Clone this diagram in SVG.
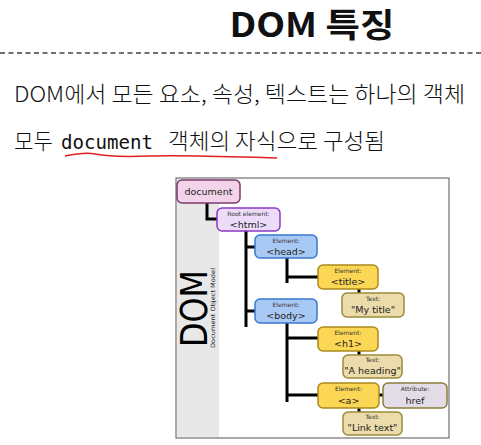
<svg xmlns="http://www.w3.org/2000/svg" width="481" height="445" viewBox="0 0 481 445">
<style>
.k{font-family:"Noto Sans CJK KR","Noto Sans",sans-serif;fill:#111}
.t{font-weight:300}
.mono{font-family:"DejaVu Sans Mono","Liberation Mono",monospace}
.n{stroke-width:1.5}
.sm{font-family:"DejaVu Sans",sans-serif;font-size:6px;fill:#333;text-anchor:middle}
.lb{font-family:"DejaVu Sans",sans-serif;font-size:9.5px;fill:#222;text-anchor:middle}
.doc{fill:#f3d3ea;stroke:#7a3a6a}
.root{fill:#ecdcfa;stroke:#8a3ac8}
.el{fill:#a9c9f5;stroke:#3a78d0}
.yel{fill:#fcd655;stroke:#a88a1c}
.txt{fill:#ecdcab;stroke:#9c8a3a}
.att{fill:#e2dce6;stroke:#8c7c3c}
.c{fill:none;stroke:#000;stroke-width:3}
</style>
<rect width="481" height="445" fill="#fff"/>
<text class="k" x="312" y="37" font-size="33" font-weight="700" text-anchor="middle" textLength="165" lengthAdjust="spacingAndGlyphs">DOM 특징</text>
<line x1="0" y1="53" x2="481" y2="53" stroke="#444" stroke-width="1.5" stroke-dasharray="5 3.5"/>
<text class="k t" x="14" y="102" font-size="22" textLength="451" lengthAdjust="spacingAndGlyphs">DOM에서 모든 요소, 속성, 텍스트는 하나의 객체</text>
<text class="k t" x="14" y="149" font-size="22" textLength="39" lengthAdjust="spacingAndGlyphs">모두</text>
<text class="mono" x="61" y="149" font-size="20" fill="#111" textLength="92" lengthAdjust="spacingAndGlyphs">document</text>
<text class="k t" x="168" y="149" font-size="22" textLength="217" lengthAdjust="spacingAndGlyphs">객체의 자식으로 구성됨</text>
<path d="M65,156 C75,154 85,152 95,154 C110,157 125,157 150,156 C190,155 240,157 277,158" fill="none" stroke="#e02020" stroke-width="1.5"/>

<g id="frame">
<rect x="176" y="178" width="273" height="260" fill="#fff" stroke="#555" stroke-width="1"/>
<rect x="177" y="179" width="42" height="258" fill="#e8e8e8"/>
<text transform="translate(207,347) rotate(-90)" font-family="DejaVu Sans,sans-serif" font-size="37" fill="#000" textLength="77" lengthAdjust="spacingAndGlyphs">DOM</text>
<text transform="translate(215,348) rotate(-90)" font-family="DejaVu Sans,sans-serif" font-size="6" fill="#222" textLength="80" lengthAdjust="spacingAndGlyphs">Document Object Model</text>
</g>

<g id="connectors">
<path class="c" d="M207,203 V219 H217"/>
<path class="c" d="M246,231 V327 M246,247 H255 M246,311 H255"/>
<path class="c" d="M287,258 V283 M287,277 H318"/>
<path class="c" d="M359,289 V293"/>
<path class="c" d="M287,323 V402 M287,338 H318 M287,395 H318"/>
<path class="c" d="M359,351 V355"/>
<path class="c" d="M379,395 H383"/>
<path class="c" d="M359,408 V412"/>
</g>

<g id="document"><rect class="n doc" x="177" y="180" width="63" height="23" rx="5"/><text class="lb" x="208.5" y="195">document</text></g>
<g id="html"><rect class="n root" x="217" y="208" width="63" height="23" rx="5"/><text class="sm" x="248.5" y="216">Root element:</text><text class="lb" x="248.5" y="228">&lt;html&gt;</text></g>
<g id="head"><rect class="n el" x="255" y="235" width="62" height="23" rx="5"/><text class="sm" x="286" y="243">Element:</text><text class="lb" x="286" y="255">&lt;head&gt;</text></g>
<g id="title"><rect class="n yel" x="318" y="265" width="60" height="24" rx="5"/><text class="sm" x="348" y="273">Element:</text><text class="lb" x="348" y="285">&lt;title&gt;</text></g>
<g id="mytitle"><rect class="n txt" x="342" y="293" width="62" height="24" rx="5"/><text class="sm" x="373" y="301">Text:</text><text class="lb" x="373" y="313">"My title"</text></g>
<g id="body"><rect class="n el" x="255" y="299" width="62" height="24" rx="5"/><text class="sm" x="286" y="307">Element:</text><text class="lb" x="286" y="319">&lt;body&gt;</text></g>
<g id="h1"><rect class="n yel" x="318" y="327" width="60" height="24" rx="5"/><text class="sm" x="348" y="335">Element:</text><text class="lb" x="348" y="347">&lt;h1&gt;</text></g>
<g id="aheading"><rect class="n txt" x="343" y="355" width="59" height="23" rx="5"/><text class="sm" x="372.5" y="362">Text:</text><text class="lb" x="372.5" y="374">"A heading"</text></g>
<g id="a"><rect class="n yel" x="318" y="383" width="61" height="25" rx="5"/><text class="sm" x="348.5" y="391">Element:</text><text class="lb" x="348.5" y="404">&lt;a&gt;</text></g>
<g id="href"><rect class="n att" x="383" y="383" width="64" height="25" rx="5"/><text class="sm" x="415" y="391">Attribute:</text><text class="lb" x="415" y="404">href</text></g>
<g id="linktext"><rect class="n txt" x="343" y="412" width="59" height="23" rx="5"/><text class="sm" x="372.5" y="419">Text:</text><text class="lb" x="372.5" y="431">"Link text"</text></g>
</svg>
